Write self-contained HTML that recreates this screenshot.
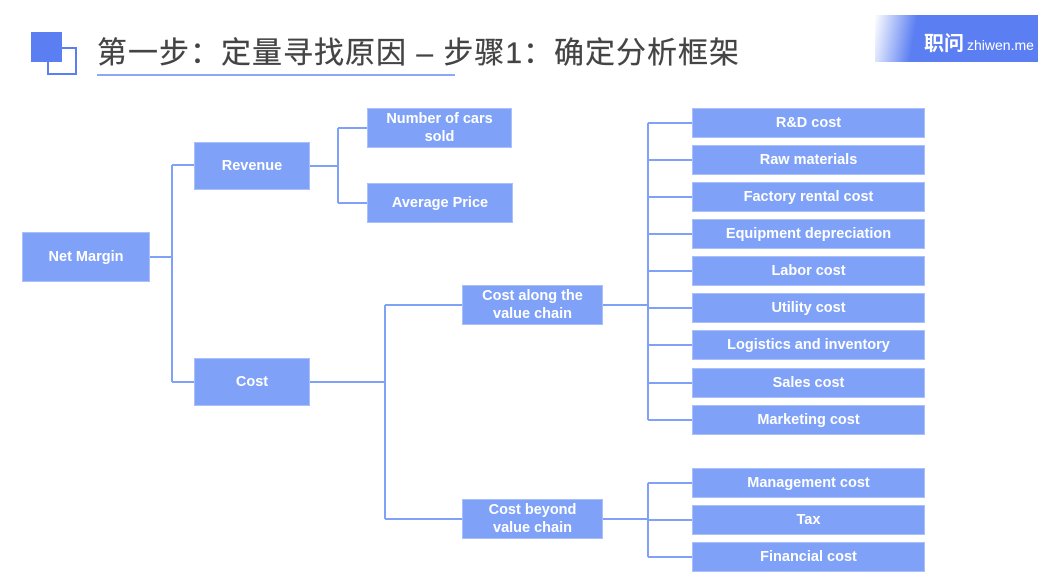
<!DOCTYPE html>
<html><head><meta charset="utf-8"><style>
body{margin:0;width:1038px;height:575px;background:#fff;position:relative;overflow:hidden;font-family:"Liberation Sans",Arial,sans-serif}
.b{position:absolute;background:#7fa1f7;color:#fff;font-weight:bold;font-size:14.5px;display:flex;align-items:center;justify-content:center;text-align:center;line-height:18px;box-sizing:border-box;border:1px solid #a9c0fa}
.r{left:692px;width:233px;height:30px}
</style></head><body>
<div style="position:absolute;left:47px;top:47px;width:30px;height:28px;border:2px solid #5b7ef2;box-sizing:border-box"></div>
<div style="position:absolute;left:31px;top:32px;width:31px;height:30px;background:#5b7ef2"></div>
<div style="position:absolute;left:97px;top:28px;font-size:30px;color:#444;font-family:'Liberation Sans','Noto Sans CJK SC',sans-serif;white-space:nowrap;letter-spacing:1px;-webkit-text-stroke:0.2px #444">第一步：定量寻找原因 – 步骤1：确定分析框架</div>
<div style="position:absolute;left:97px;top:74px;width:358px;height:2px;background:#8aa8f5"></div>
<div style="position:absolute;left:875px;top:15px;width:163px;height:47px;background:linear-gradient(100deg,rgba(91,126,242,0) 0%,#5b7ef2 25%,#5b7ef2 100%)"></div>
<div style="position:absolute;left:924px;top:27px;color:#fff;font-size:20px;font-family:'Liberation Sans','Noto Sans CJK SC',sans-serif;font-weight:bold;white-space:nowrap">职问<span style="font-size:14px;font-weight:normal;margin-left:3px">zhiwen.me</span></div>
<svg width="1038" height="575" style="position:absolute;left:0;top:0" fill="none" stroke="#7fa1f7" stroke-width="2">
<path d="M150 257H172M172 165V382M172 165H194M172 382H194"/>
<path d="M310 166H338M338 128V203M338 128H367M338 203H367"/>
<path d="M310 382H385M385 305V519M385 305H462M385 519H462"/>
<path d="M603 305H648M648 123V420M648 123H692M648 160H692M648 197H692M648 234H692M648 271H692M648 308H692M648 345H692M648 383H692M648 420H692"/>
<path d="M603 519H648M648 483V557M648 483H692M648 520H692M648 557H692"/>
</svg>
<div class="b" style="left:22px;top:232px;width:128px;height:50px">Net Margin</div>
<div class="b" style="left:194px;top:142px;width:116px;height:48px">Revenue</div>
<div class="b" style="left:194px;top:358px;width:116px;height:48px">Cost</div>
<div class="b" style="left:367px;top:108px;width:145px;height:40px">Number of cars<br>sold</div>
<div class="b" style="left:367px;top:183px;width:146px;height:40px">Average Price</div>
<div class="b" style="left:462px;top:285px;width:141px;height:40px">Cost along the<br>value chain</div>
<div class="b" style="left:462px;top:499px;width:141px;height:40px">Cost beyond<br>value chain</div>
<div class="b r" style="top:108px">R&amp;D cost</div>
<div class="b r" style="top:145px">Raw materials</div>
<div class="b r" style="top:182px">Factory rental cost</div>
<div class="b r" style="top:219px">Equipment depreciation</div>
<div class="b r" style="top:256px">Labor cost</div>
<div class="b r" style="top:293px">Utility cost</div>
<div class="b r" style="top:330px">Logistics and inventory</div>
<div class="b r" style="top:368px">Sales cost</div>
<div class="b r" style="top:405px">Marketing cost</div>
<div class="b r" style="top:468px">Management cost</div>
<div class="b r" style="top:505px">Tax</div>
<div class="b r" style="top:542px">Financial cost</div>
</body></html>
